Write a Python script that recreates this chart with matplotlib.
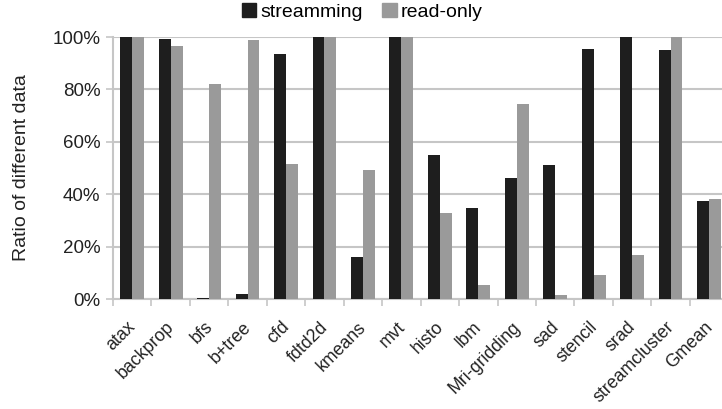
import matplotlib
matplotlib.use("Agg")
import matplotlib.pyplot as plt
import matplotlib.transforms as mtransforms
import numpy as np
from matplotlib.patches import Patch

plt.rcParams['font.family'] = ['Liberation Sans', 'DejaVu Sans']

benchmarks = ["atax", "backprop", "bfs", "b+tree", "cfd", "fdtd2d", "kmeans", "mvt",
              "histo", "lbm", "Mri-gridding", "sad", "stencil", "srad", "streamcluster", "Gmean"]
streaming = [100, 99.3, 0.5, 1.9, 93.5, 100, 16.2, 100,
             54.8, 34.7, 46.0, 51.0, 95.4, 100, 95.0, 37.3]
read_only = [100, 96.7, 82.0, 98.8, 51.5, 100, 49.2, 100,
             32.7, 5.2, 74.4, 1.4, 9.0, 16.8, 100, 38.3]
yticks = [0, 20, 40, 60, 80, 100]
ytick_labels = ["0%", "20%", "40%", "60%", "80%", "100%"]

dark = "#1e1e1e"
light = "#9a9a9a"
grid_c = "#c6c6c6"

fig = plt.figure(figsize=(7.22, 4.09), dpi=100)
ax = fig.add_axes([113 / 722, 1 - 299 / 409, 16 * 38.45 / 722, 262 / 409])

x = np.arange(len(benchmarks)) + 0.5
w = 0.31
ax.bar(x - w / 2, streaming, w, color=dark, zorder=3)
ax.bar(x + w / 2, read_only, w, color=light, zorder=3)

ax.set_xlim(0, len(benchmarks))
ax.set_ylim(0, 100)
ax.set_yticks(yticks)
ax.set_yticklabels(ytick_labels, fontsize=13.5, color="#222222")
ax.yaxis.grid(True, color=grid_c, linewidth=1.5, zorder=0)

ax.set_xticks(np.arange(len(benchmarks) + 1))
ax.set_xticklabels([])
ax.set_xticks(x, minor=True)
ax.set_xticklabels(benchmarks, minor=True, rotation=45, ha="right",
                   rotation_mode="anchor", fontsize=12.8, color="#222222")
ax.tick_params(axis="x", which="minor", length=0, pad=14)
ax.tick_params(axis="x", which="major", length=5, color=grid_c, width=1.2)
ax.tick_params(axis="y", length=5, color=grid_c, width=1.2, pad=4)

# nudge the slanted category labels slightly to the left
shift = mtransforms.ScaledTranslation(-5 / 100, 0, fig.dpi_scale_trans)
for lbl in ax.xaxis.get_minorticklabels():
    lbl.set_transform(lbl.get_transform() + shift)

for s in ["top", "right"]:
    ax.spines[s].set_visible(False)
for s in ["left", "bottom"]:
    ax.spines[s].set_color(grid_c)
    ax.spines[s].set_linewidth(1.5)

ax.set_ylabel("Ratio of different data", fontsize=14, color="#222222", labelpad=16)

handles = [Patch(color=dark, label="streamming"), Patch(color=light, label="read-only")]
fig.legend(handles=handles, loc="center", bbox_to_anchor=(362 / 722, 1 - 12 / 409),
           ncol=2, frameon=False, fontsize=14, handlelength=0.75, handleheight=0.75,
           handletextpad=0.2, columnspacing=1.0, borderpad=0)

fig.savefig("out.png", dpi=100)
